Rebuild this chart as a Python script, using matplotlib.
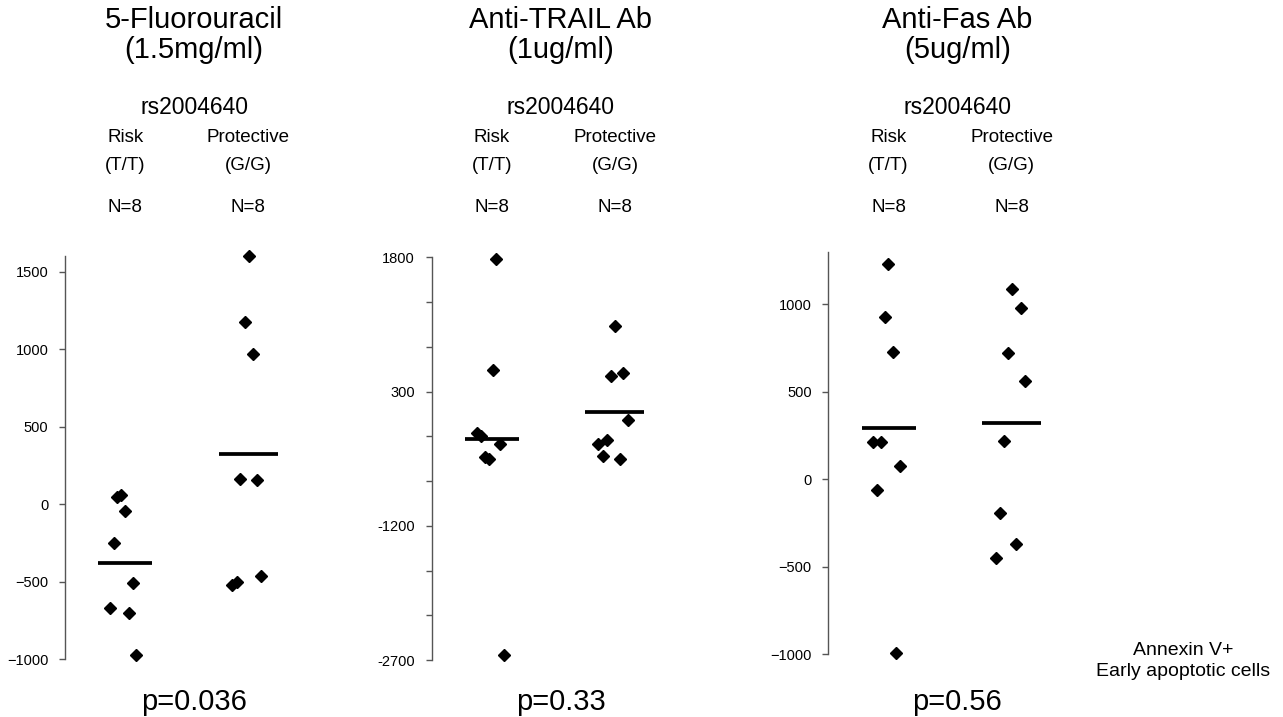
import numpy as np
import matplotlib
matplotlib.use('Agg')
import matplotlib.pyplot as plt
from matplotlib import transforms

plt.rcParams['font.family'] = ['Liberation Sans', 'DejaVu Sans']

# dados (Annexin V+, early apoptotic cells)
titulos = [('5-Fluorouracil', '(1.5mg/ml)'),
           ('Anti-TRAIL Ab', '(1ug/ml)'),
           ('Anti-Fas Ab', '(5ug/ml)')]
pvalores = ['p=0.036', 'p=0.33', 'p=0.56']

risco_5fu = [49, 60, -41, -252, -510, -671, -703, -972]
protetor_5fu = [1602, 1172, 970, 161, 153, -520, -499, -460]
risco_trail = [1780, 542, -166, -196, -289, -434, -453, -2643]
protetor_trail = [1034, 512, 475, -17, -240, -285, -419, -453]
risco_fas = [1229, 929, 729, 211, 211, 78, -61, -993]
protetor_fas = [1085, 980, 719, 559, 219, -190, -369, -451]

# deslocamento horizontal (jitter) de cada ponto
jit_risco_5fu = [-0.068, -0.033, -0.005, -0.095, 0.06, -0.128, 0.027, 0.089]
jit_prot_5fu = [0.003, -0.03, 0.038, -0.065, 0.07, -0.133, -0.092, 0.106]
jit_risco_trail = [0.033, 0.005, -0.122, -0.089, 0.068, -0.054, -0.022, 0.098]
jit_prot_trail = [0.0, 0.068, -0.033, 0.108, -0.068, -0.136, -0.1, 0.041]
jit_risco_fas = [-0.003, -0.033, 0.033, -0.128, -0.063, 0.092, -0.098, 0.06]
jit_prot_fas = [0.005, 0.073, -0.03, 0.106, -0.063, -0.095, 0.038, -0.128]

yticks_5fu = [-1000, -500, 0, 500, 1000, 1500]
yticks_trail = [-2700, -2200, -1700, -1200, -700, -200, 300, 800, 1300, 1800]
ylabels_trail = ['-2700', '', '', '-1200', '', '', '300', '', '', '1800']
yticks_fas = [-1000, -500, 0, 500, 1000]

paineis = [
    (risco_5fu, protetor_5fu, jit_risco_5fu, jit_prot_5fu, yticks_5fu, None, (-1000, 1600)),
    (risco_trail, protetor_trail, jit_risco_trail, jit_prot_trail, yticks_trail, ylabels_trail, (-2700, 1800)),
    (risco_fas, protetor_fas, jit_risco_fas, jit_prot_fas, yticks_fas, None, (-1000, 1300)),
]

W, H = 1283, 717
fig = plt.figure(figsize=(W / 100, H / 100), dpi=100)

# posicao de cada eixo em pixels: (esquerda, topo, base)
posicoes = [(65, 256, 659.3), (431.7, 257.3, 660), (828.3, 251.7, 654.3)]
cinza = '#555555'

for i, (risco, prot, jr, jp, yt, yl, ylim) in enumerate(paineis):
    esq, topo, base = posicoes[i]
    ax = fig.add_axes([esq / W, 1 - base / H, 246 / W, (base - topo) / H])
    ax.set_xlim(0.51, 2.51)
    ax.set_ylim(*ylim)

    ax.plot(1 + np.array(jr), risco, 'D', color='black', markersize=6, linestyle='none', clip_on=False)
    ax.plot(2 + np.array(jp), prot, 'D', color='black', markersize=6, linestyle='none', clip_on=False)
    ax.hlines(np.mean(risco), 0.78, 1.22, color='black', linewidth=2.7)
    ax.hlines(np.mean(prot), 1.76, 2.24, color='black', linewidth=2.7)

    for lado in ['top', 'right', 'bottom']:
        ax.spines[lado].set_visible(False)
    ax.spines['left'].set_color(cinza)
    ax.spines['left'].set_linewidth(1)
    ax.set_xticks([])
    ax.set_yticks(yt)
    if yl is not None:
        ax.set_yticklabels(yl)
    ax.tick_params(axis='y', direction='out', length=4, width=1, color=cinza,
                   labelsize=10.5, pad=8)

    tr = transforms.blended_transform_factory(ax.transData, fig.transFigure)
    fig.text(1.56, 1 - 28.5 / H, titulos[i][0], transform=tr, ha='center', va='baseline', fontsize=21)
    fig.text(1.56, 1 - 58.5 / H, titulos[i][1], transform=tr, ha='center', va='baseline', fontsize=21)
    fig.text(1.56, 1 - 114 / H, 'rs2004640', transform=tr, ha='center', va='baseline', fontsize=16.5)
    fig.text(1, 1 - 142 / H, 'Risk', transform=tr, ha='center', va='baseline', fontsize=13.5)
    fig.text(2, 1 - 142 / H, 'Protective', transform=tr, ha='center', va='baseline', fontsize=13.5)
    fig.text(1, 1 - 170.5 / H, '(T/T)', transform=tr, ha='center', va='baseline', fontsize=13.5)
    fig.text(2, 1 - 170.5 / H, '(G/G)', transform=tr, ha='center', va='baseline', fontsize=13.5)
    fig.text(1, 1 - 212 / H, 'N=8', transform=tr, ha='center', va='baseline', fontsize=13.5)
    fig.text(2, 1 - 212 / H, 'N=8', transform=tr, ha='center', va='baseline', fontsize=13.5)
    fig.text(1.56, 1 - 710 / H, pvalores[i], transform=tr, ha='center', va='baseline', fontsize=21)

fig.text(1183 / W, 1 - 655 / H, 'Annexin V+', ha='center', va='baseline', fontsize=14)
fig.text(1183 / W, 1 - 676.5 / H, 'Early apoptotic cells', ha='center', va='baseline', fontsize=14)

plt.savefig('out.png', dpi=100)
